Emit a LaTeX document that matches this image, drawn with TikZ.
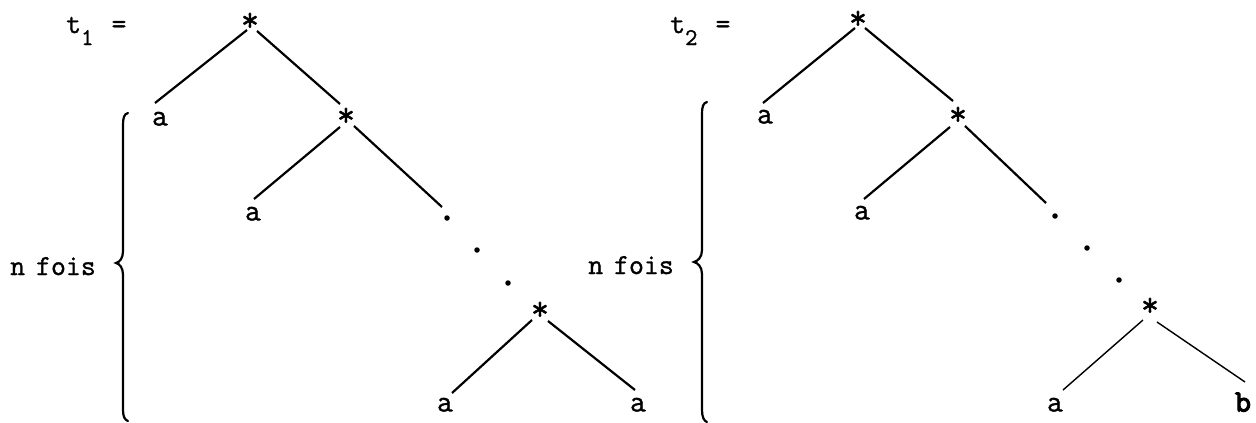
\documentclass[tikz,border=0pt]{standalone}
\usepackage{fontspec}
\setmonofont{Latin Modern Mono}[FakeBold=1.2]
\newfontfamily\boldtt{Latin Modern Mono}[FakeBold=3.5]
\begin{document}
\begin{tikzpicture}[x=1pt,y=-1pt,
  lbl/.style={font=\ttfamily\fontsize{31}{32}\selectfont, inner sep=0pt, text height=13pt, text depth=0pt, anchor=center},
  starl/.style={font=\ttfamily\fontsize{35}{35}\selectfont, inner sep=0pt, text height=22pt, text depth=0pt, anchor=center},
  txt/.style={font=\ttfamily\fontsize{29}{30}\selectfont, inner sep=0pt, anchor=base west},
  edge/.style={line width=2.2pt},
  faint edge/.style={line width=1.4pt},
  dotn/.style={circle, fill, inner sep=0pt, minimum size=5.5pt},
  bracel/.style={line width=2.2pt, line cap=round}]
\useasboundingbox (0,0) rectangle (1256,423);

% ---------------- left tree t1 ----------------
\node[txt] (t1) at (66,33) {t\raisebox{-12pt}{\fontsize{24}{24}\selectfont 1}\hspace{18pt}=};
\node[starl] (r1) at (250,20) {*};
\node[lbl] (a1) at (160,119) {a};
\node[starl] (s2) at (346,115) {*};
\node[lbl] (a2) at (253,214) {a};
\node[dotn] (d1) at (447,218) {};
\node[dotn] (d2) at (477,250) {};
\node[dotn] (d3) at (508,283) {};
\node[starl] (s3) at (540,309) {*};
\node[lbl] (a3) at (445,405) {a};
\node[lbl] (a4) at (638,405) {a};
\node[txt] (n1) at (10,275) {n\hspace{-4pt} fois};

\draw[edge] ([shift={(-3,10)}]r1.center) -- ([shift={(-5,-16)}]a1.center);
\draw[edge] ([shift={(7,11)}]r1.center) -- ([shift={(-6,-11)}]s2.center);
\draw[edge] ([shift={(-6,12)}]s2.center) -- ([shift={(1,-15)}]a2.center);
\draw[edge] ([shift={(8,11)}]s2.center) -- ([shift={(-5,-11)}]d1.center);
\draw[edge] ([shift={(-8,11)}]s3.center) -- ([shift={(7,-12)}]a3.center);
\draw[edge] ([shift={(8,12)}]s3.center) -- ([shift={(-3,-15)}]a4.center);

\draw[bracel] (128,113) .. controls (124,114) and (123,118) .. (123,125)
  -- (123,251) .. controls (123,258) and (120,262) .. (116,263)
  .. controls (120,264) and (123,268) .. (123,275)
  -- (123,410) .. controls (123,417) and (125,420) .. (128,421);

% ---------------- right tree t2 ----------------
\node[txt] (t2) at (670,33) {t\raisebox{-12pt}{\fontsize{24}{24}\selectfont 2}\hspace{18pt}=};
\node[starl] (R1) at (858,18) {*};
\node[lbl] (A1) at (765,117) {a};
\node[starl] (S2) at (958,114) {*};
\node[lbl] (A2) at (862,213) {a};
\node[dotn] (D1) at (1055,216) {};
\node[dotn] (D2) at (1087,248) {};
\node[dotn] (D3) at (1119,280) {};
\node[starl] (S3) at (1150,305) {*};
\node[lbl] (A3) at (1055,405) {a};
\node[lbl] (B) at (1243,405) {\boldtt b};
\node[txt] (n2) at (588,274) {n\hspace{-4pt} fois};

\draw[edge] ([shift={(-3,10)}]R1.center) -- ([shift={(-2,-14)}]A1.center);
\draw[edge] ([shift={(7,10)}]R1.center) -- ([shift={(-5,-13)}]S2.center);
\draw[edge] ([shift={(-8,13)}]S2.center) -- ([shift={(2,-14)}]A2.center);
\draw[edge] ([shift={(7,12)}]S2.center) -- ([shift={(-9,-13)}]D1.center);
\draw[faint edge] ([shift={(-7,15)}]S3.center) -- ([shift={(8,-15)}]A3.center);
\draw[faint edge] ([shift={(7,17)}]S3.center) -- ([shift={(2,-23)}]B.center);

\draw[bracel] (707,102) .. controls (703,103) and (702,107) .. (702,114)
  -- (702,250) .. controls (702,257) and (698,261) .. (694,262)
  .. controls (698,263) and (702,267) .. (702,274)
  -- (702,410) .. controls (702,417) and (704,421) .. (707,422);
\end{tikzpicture}
\end{document}
